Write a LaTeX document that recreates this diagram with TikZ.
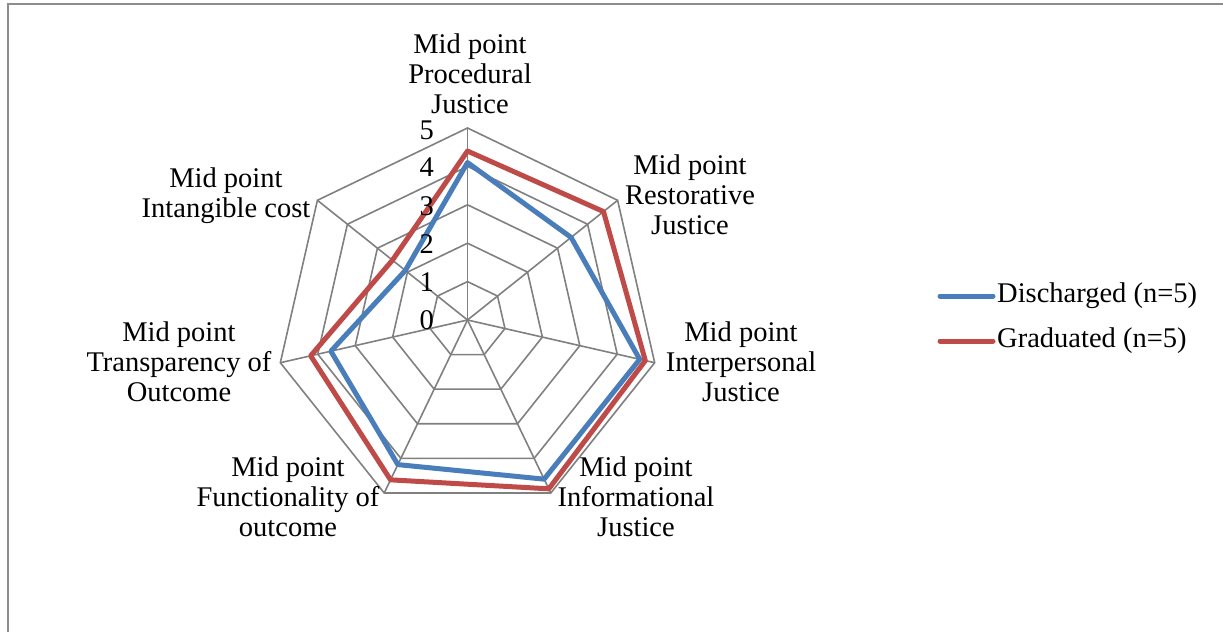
\documentclass[tikz,border=0pt]{standalone}
\usepackage{fontspec}
\setmainfont{Liberation Serif}
\begin{document}
\begin{tikzpicture}[x=1pt,y=-1pt,
  frame/.style={draw=black!45,line width=1.6pt},
  gridline/.style={draw=black!50,line width=1.6pt,line join=miter},
  seriesA/.style={draw=blueS,line width=5pt,line join=round},
  seriesB/.style={draw=redS,line width=5pt,line join=round},
  lab/.style={align=center,inner sep=0pt,font=\fontsize{28.5}{30}\selectfont},
  ticklab/.style={anchor=east,inner sep=0pt,font=\fontsize{28.5}{30}\selectfont},
  leglab/.style={anchor=west,inner sep=0pt,font=\fontsize{28.5}{30}\selectfont}]
\definecolor{blueS}{HTML}{4A7EBB}
\definecolor{redS}{HTML}{BE4B48}
\useasboundingbox (0,0) rectangle (1223,632);
\draw[frame] (8,632) -- (8,4) -- (1223,4);
\coordinate (c) at (467.5,320);
\begin{scope}[shift={(467.5,320)}]
  \foreach \k in {1,...,5} {
    \draw[gridline] (-90:\k*38.4)
      \foreach \i in {1,...,6} { -- ({-90+\i*360/7}:\k*38.4) } -- cycle;
  }
  \foreach \i in {0,...,6} {
    \draw[gridline] (0,0) -- ({-90+\i*360/7}:192);
  }
  % Discharged
  \draw[seriesA] (-90:4.10*38.4)
    -- ({-90+1*360/7}:3.45*38.4)
    -- ({-90+2*360/7}:4.60*38.4)
    -- ({-90+3*360/7}:4.60*38.4)
    -- ({-90+4*360/7}:4.18*38.4)
    -- ({-90+5*360/7}:3.65*38.4)
    -- ({-90+6*360/7}:2.07*38.4) -- cycle;
  % Graduated
  \draw[seriesB] (-90:4.40*38.4)
    -- ({-90+1*360/7}:4.53*38.4)
    -- ({-90+2*360/7}:4.75*38.4)
    -- ({-90+3*360/7}:4.88*38.4)
    -- ({-90+4*360/7}:4.62*38.4)
    -- ({-90+5*360/7}:4.19*38.4)
    -- ({-90+6*360/7}:2.50*38.4) -- cycle;
\end{scope}
% tick labels
\node[ticklab] (t0) at (434,320) {0};
\node[ticklab] (t1) at (434,282) {1};
\node[ticklab] (t2) at (434,244) {2};
\node[ticklab] (t3) at (434,206) {3};
\node[ticklab] (t4) at (434,167) {4};
\node[ticklab] (t5) at (434,130) {5};
% axis labels
\node[lab] (proc) at (470,74) {Mid point\\Procedural\\Justice};
\node[lab] (rest) at (690,195) {Mid point\\Restorative\\Justice};
\node[lab] (inter) at (741,362) {Mid point\\Interpersonal\\Justice};
\node[lab] (info) at (636,497) {Mid point\\Informational\\Justice};
\node[lab] (func) at (288,497) {Mid point\\Functionality of\\outcome};
\node[lab] (trans) at (179,362) {Mid point\\Transparency of\\Outcome};
\node[lab] (intang) at (226,196) {Mid point\\Intangible cost};
% legend
\node[leglab] (lgA) at (997,296) {Discharged (n=5)};
\node[leglab] (lgB) at (997,341) {Graduated (n=5)};
\coordinate (lgAs) at (940,296);
\coordinate (lgBs) at (940,341);
\draw[seriesA,line cap=round] (lgAs) -- ([xshift=-4pt]lgA.west);
\draw[seriesB,line cap=round] (lgBs) -- ([xshift=-4pt]lgB.west);
\end{tikzpicture}
\end{document}
